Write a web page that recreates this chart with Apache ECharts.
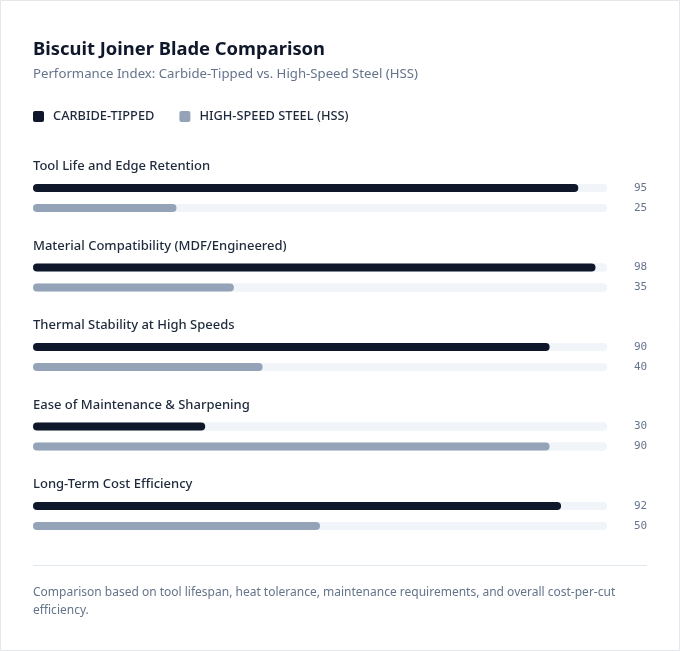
<!DOCTYPE html>
<html>
<head>
<meta charset="utf-8">
<script src="https://cdn.jsdelivr.net/npm/echarts@6/dist/echarts.min.js"></script>
<style>
  html, body { margin: 0; padding: 0; background: #fff; }
  #main { width: 680px; height: 651px; }
</style>
</head>
<body>
<div id="main"></div>
<script>
// data
var categories = [
    'Tool Life and Edge Retention',
    'Material Compatibility (MDF/Engineered)',
    'Thermal Stability at High Speeds',
    'Ease of Maintenance & Sharpening',
    'Long-Term Cost Efficiency'
];
var seriesNames = ['Carbide-Tipped', 'High-Speed Steel (HSS)'];
var carbideValues = [95, 98, 90, 30, 92];
var hssValues = [25, 35, 40, 90, 50];

var colors = ['#0f172a', '#94a3b8'];
var trackColor = '#f1f5f9';
var font = '"Noto Sans", "Open Sans", sans-serif';

var chart = echarts.init(document.getElementById('main'));

var grids = [], xAxes = [], yAxes = [], series = [], texts = [];
var rowStep = 79.5;

categories.forEach(function(cat, i) {
    var top = 178 + i * rowStep;
    var vals = [carbideValues[i], hssValues[i]];
    grids.push({ left: 33, right: 73, top: top, height: 40 });
    xAxes.push({
        gridIndex: i, type: 'value', min: 0, max: 100,
        show: false
    });
    yAxes.push({
        gridIndex: i, type: 'category', inverse: true, position: 'right',
        data: seriesNames,
        axisLine: { show: false },
        axisTick: { show: false },
        axisLabel: {
            margin: 27,
            color: '#64748b',
            fontFamily: '"DejaVu Sans Mono", monospace',
            fontSize: 11,
            formatter: function(v, idx) { return String(vals[idx]); }
        }
    });
    series.push({
        name: seriesNames[0], type: 'bar', xAxisIndex: i, yAxisIndex: i,
        data: [carbideValues[i], '-'],
        barWidth: 8, barGap: '-100%',
        itemStyle: { color: colors[0], borderRadius: 4 },
        showBackground: true,
        backgroundStyle: { color: trackColor, borderRadius: 4 },
        silent: true
    });
    series.push({
        name: seriesNames[1], type: 'bar', xAxisIndex: i, yAxisIndex: i,
        data: ['-', hssValues[i]],
        barWidth: 8, barGap: '-100%',
        itemStyle: { color: colors[1], borderRadius: 4 },
        showBackground: true,
        backgroundStyle: { color: trackColor, borderRadius: 4 },
        silent: true
    });
    texts.push({
        type: 'text', left: 33, top: top - 18,
        style: {
            text: cat, fill: '#1e293b',
            font: '500 13px ' + font,
            textVerticalAlign: 'middle'
        }
    });
});

var option = {
    animation: false,
    color: colors,
    title: {
        text: 'Biscuit Joiner Blade Comparison',
        subtext: 'Performance Index: Carbide-Tipped vs. High-Speed Steel (HSS)',
        left: 28, top: 36,
        itemGap: 9,
        textStyle: { color: '#0f172a', fontSize: 18.4, fontWeight: 'bold', fontFamily: font },
        subtextStyle: { color: '#64748b', fontSize: 13.2, fontFamily: font }
    },
    legend: {
        left: 28, top: 105,
        icon: 'path://M2,0H9A2,2 0 0 1 11,2V9A2,2 0 0 1 9,11H2A2,2 0 0 1 0,9V2A2,2 0 0 1 2,0Z',
        itemWidth: 11, itemHeight: 11,
        itemGap: 25,
        data: seriesNames,
        selectedMode: false,
        formatter: function(name) { return name.toUpperCase(); },
        textStyle: {
            color: '#1e293b', fontSize: 12.8, fontFamily: font, fontWeight: 500,
            padding: [0, 0, 0, 4]
        }
    },
    grid: grids,
    xAxis: xAxes,
    yAxis: yAxes,
    series: series,
    graphic: texts.concat([
        {
            type: 'rect', silent: true,
            shape: { x: 0.5, y: 0.5, width: 679, height: 650, r: 0 },
            style: { fill: 'none', stroke: '#e5e7eb', lineWidth: 1 }
        },
        {
            type: 'rect', left: 33, top: 565, silent: true,
            shape: { width: 614, height: 1 },
            style: { fill: '#e2e8f0' }
        },
        {
            type: 'text', left: 33, top: 584,
            style: {
                text: 'Comparison based on tool lifespan, heat tolerance, maintenance requirements, and overall cost-per-cut efficiency.',
                width: 614, overflow: 'break', lineHeight: 18,
                fill: '#64748b', font: '12px ' + font
            }
        }
    ])
};

chart.setOption(option);
</script>
</body>
</html>
